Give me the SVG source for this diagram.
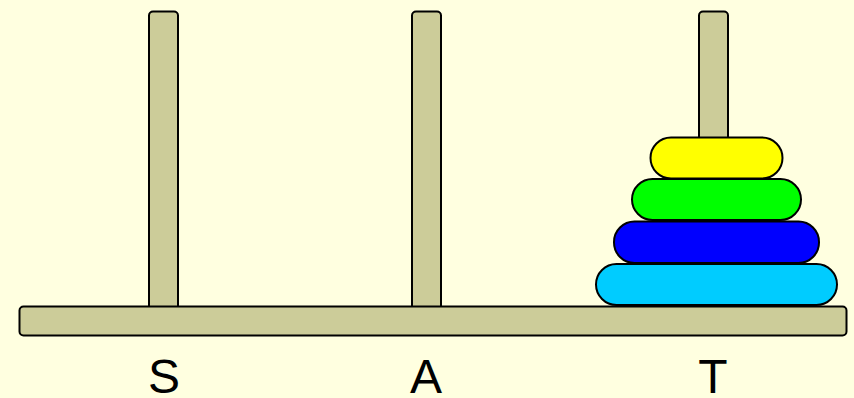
<svg xmlns="http://www.w3.org/2000/svg" width="854" height="398" viewBox="0 0 854 398">
<style>
.wood{fill:#CCCC99;stroke:#000;stroke-width:2}
.disk{stroke:#000;stroke-width:2}
.lbl{font-family:"Liberation Sans",Arial,sans-serif;font-size:48px;fill:#000;text-anchor:middle}
</style>
<rect width="854" height="398" fill="#FFFFE0"/>
<g id="peg-S"><rect class="wood" x="149" y="11.5" width="29" height="300" rx="4"/></g>
<g id="peg-A"><rect class="wood" x="412" y="11.5" width="29" height="300" rx="4"/></g>
<g id="peg-T"><rect class="wood" x="699" y="11.5" width="29" height="300" rx="4"/></g>
<g id="base"><rect class="wood" x="19.5" y="306.5" width="827" height="29" rx="4"/></g>
<g id="disk-4"><rect class="disk" fill="#00CCFF" x="596" y="264" width="241" height="41" rx="20.5"/></g>
<g id="disk-3"><rect class="disk" fill="#0000FF" x="614" y="221.5" width="205" height="41.5" rx="20.5"/></g>
<g id="disk-2"><rect class="disk" fill="#00FF00" x="632" y="179" width="169" height="41" rx="20.5"/></g>
<g id="disk-1"><rect class="disk" fill="#FFFF00" x="650.5" y="137.5" width="132" height="41" rx="20.5"/></g>
<g id="labels">
<text class="lbl" x="164" y="393">S</text>
<text class="lbl" x="426" y="393">A</text>
<text class="lbl" x="713" y="393">T</text>
</g>
</svg>
